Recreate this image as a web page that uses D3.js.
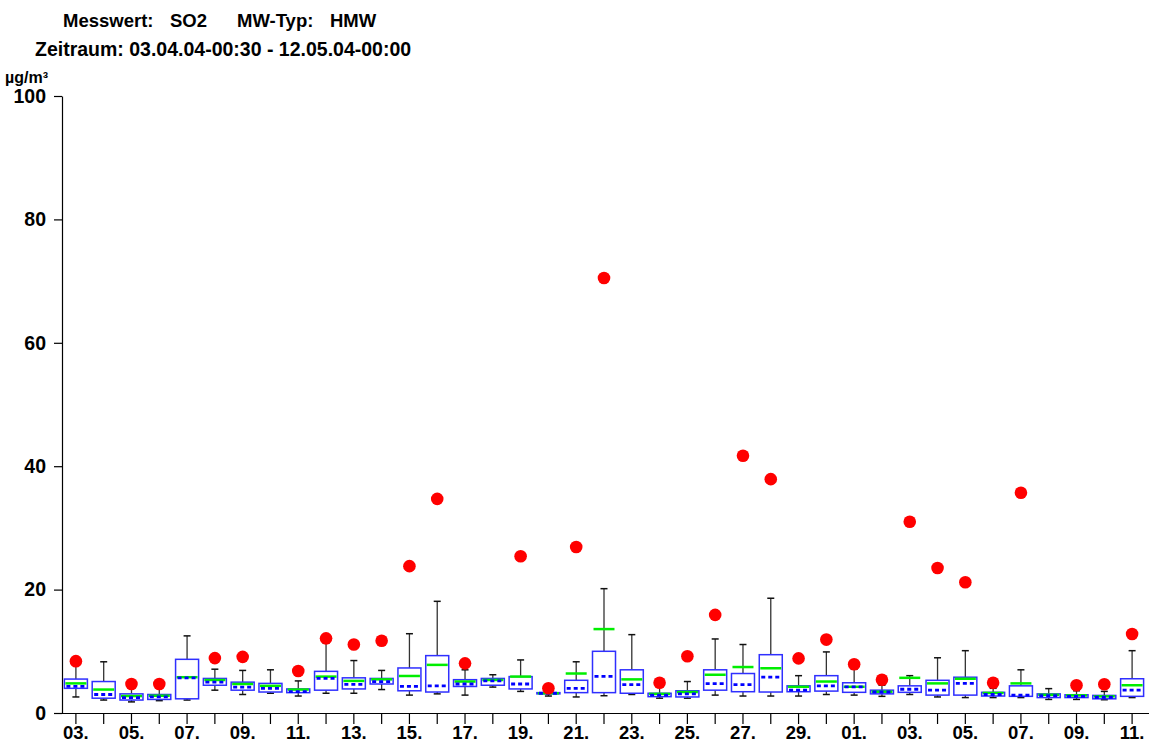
<!DOCTYPE html>
<html>
<head>
<meta charset="utf-8">
<script src="https://cdn.jsdelivr.net/npm/d3@7"></script>
<style>
  body { margin: 0; background: #fff; }
  svg text { font-family: "Liberation Sans", Arial, sans-serif; font-weight: bold; fill: #000; }
</style>
</head>
<body>
<div id="chart"></div>
<script>
// Tageswerte SO2 (HMW), 03.04.04 - 11.05.04
var days = ["03.","04.","05.","06.","07.","08.","09.","10.","11.","12.","13.","14.","15.","16.","17.","18.","19.","20.",
  "21.","22.","23.","24.","25.","26.","27.","28.","29.","30.","01.","02.","03.","04.","05.","06.","07.","08.","09.","10.","11."];

// whisker low / high
var wLow  = [2.6,2.1,1.8,2.0,2.1,3.7,3.0,3.2,2.75,3.2,3.2,3.8,2.9,3.1,2.9,4.2,3.5,2.75,2.6,2.8,3.0,2.4,2.4,2.9,2.75,2.75,2.75,3.0,2.9,2.7,3.0,2.6,2.5,2.5,2.5,2.2,2.2,2.15,2.5];
var wHigh = [7.9,8.3,4.6,4.3,12.5,7.1,6.9,7.0,5.2,11.3,8.5,6.9,12.85,18.1,7.0,6.2,8.6,3.8,8.3,20.15,12.7,4.3,5.1,12.0,11.1,18.6,6.05,9.9,7.1,4.5,6.05,8.95,10.1,4.0,7.0,3.95,3.6,3.5,10.1];
// box
var q1 = [4.0,2.4,2.1,2.2,2.3,4.5,3.7,3.4,3.3,3.7,3.9,4.7,3.6,3.4,4.3,4.5,3.9,3.1,3.3,3.3,3.2,2.65,2.6,3.7,3.45,3.4,3.45,3.55,3.35,3.1,3.35,2.9,2.9,2.75,2.7,2.5,2.5,2.3,2.7];
var q3 = [5.5,5.1,3.1,3.0,8.7,5.6,5.0,4.8,3.9,6.75,5.7,5.6,7.3,9.3,5.4,5.6,5.9,3.3,5.3,10.0,7.0,3.2,3.6,7.0,6.4,9.45,4.4,6.05,4.9,3.7,4.4,5.3,5.8,3.35,4.4,3.1,2.95,2.85,5.55];
var median = [4.3,3.0,2.5,2.6,5.7,5.0,4.2,4.0,3.45,5.6,4.65,5.1,4.3,4.4,4.7,5.2,4.7,3.2,4.0,5.95,4.6,2.9,3.1,4.75,4.6,5.8,3.7,4.4,4.25,3.4,3.85,3.7,4.8,3.0,2.9,2.8,2.7,2.55,3.7];
var mean = [4.8,3.8,2.75,2.8,5.8,5.35,4.7,4.4,3.8,5.9,5.2,5.45,6.0,7.8,5.1,5.35,5.9,3.2,6.4,13.6,5.45,3.1,3.4,6.2,7.45,7.25,4.25,5.1,4.25,3.45,5.7,4.8,5.55,3.25,4.8,2.95,2.85,2.7,4.5];
// Maximum (null = kein Punkt)
var maxVal = [8.4,null,4.7,4.7,null,8.9,9.1,null,6.8,12.1,11.1,11.7,23.8,34.7,8.05,null,25.4,4.0,26.9,70.5,null,4.9,9.2,15.9,41.7,37.9,8.85,11.9,7.9,5.4,31.0,23.5,21.2,4.9,35.7,null,4.5,4.65,12.8];

var yTicks = [0, 20, 40, 60, 80, 100];

var width = 1149, height = 744;
var svg = d3.select("#chart").append("svg")
  .attr("width", width)
  .attr("height", height);

var x = d3.scaleBand().domain(d3.range(days.length)).range([62, 1146]);
var y = d3.scaleLinear().domain([0, 100]).range([713, 96]);

// titles
var title = [["Messwert:", 63], ["SO2", 170], ["MW-Typ:", 237], ["HMW", 330]];
svg.selectAll(".title").data(title).enter().append("text")
  .attr("class", "title")
  .attr("x", function(d) { return d[1]; })
  .attr("y", 27)
  .style("font-size", "18.5px")
  .text(function(d) { return d[0]; });

svg.append("text")
  .attr("x", 35).attr("y", 56)
  .style("font-size", "19.5px")
  .text("Zeitraum: 03.04.04-00:30 - 12.05.04-00:00");

svg.append("text")
  .attr("x", 5).attr("y", 83)
  .style("font-size", "16px")
  .text("µg/m³");

// axes
var yAxis = d3.axisLeft(y).tickValues(yTicks).tickSize(8).tickSizeOuter(0).tickPadding(8);
var gy = svg.append("g").attr("transform", "translate(62,0)").call(yAxis);
gy.selectAll("text").style("font-size", "19.5px");

var xAxis = d3.axisBottom(x).tickSize(11).tickSizeOuter(0).tickPadding(2)
  .tickFormat(function(d, i) { return i % 2 == 0 ? days[i] : ""; });
var gx = svg.append("g").attr("transform", "translate(0,713)").call(xAxis);
gx.selectAll("text").style("font-size", "18.5px");
gx.select(".domain").attr("d", "M62,0.5H1149");

svg.selectAll(".domain, .tick line").style("stroke", "#000").style("stroke-width", 1.2);

// boxes
var bw = 23, cap = 7;
var g = svg.selectAll(".day").data(d3.range(days.length)).enter().append("g")
  .attr("class", "day")
  .attr("transform", function(i) { return "translate(" + (x(i) + x.bandwidth() / 2) + ",0)"; });

g.append("line")
  .attr("x1", 0).attr("x2", 0)
  .attr("y1", function(i) { return y(q3[i]); })
  .attr("y2", function(i) { return y(wHigh[i]); })
  .style("stroke", "#333").style("stroke-width", 1.3);
g.append("line")
  .attr("x1", 0).attr("x2", 0)
  .attr("y1", function(i) { return y(q1[i]); })
  .attr("y2", function(i) { return y(wLow[i]); })
  .style("stroke", "#333").style("stroke-width", 1.3);
g.append("line")
  .attr("x1", -cap / 2).attr("x2", cap / 2)
  .attr("y1", function(i) { return y(wHigh[i]); })
  .attr("y2", function(i) { return y(wHigh[i]); })
  .style("stroke", "#111").style("stroke-width", 1.5);
g.append("line")
  .attr("x1", -cap / 2).attr("x2", cap / 2)
  .attr("y1", function(i) { return y(wLow[i]); })
  .attr("y2", function(i) { return y(wLow[i]); })
  .style("stroke", "#111").style("stroke-width", 1.5);

g.append("rect")
  .attr("x", -bw / 2).attr("width", bw)
  .attr("y", function(i) { return y(q3[i]); })
  .attr("height", function(i) { return y(q1[i]) - y(q3[i]); })
  .style("fill", "#fff").style("stroke", "#2f2fff").style("stroke-width", 1.5);

g.append("line")
  .attr("x1", -bw / 2 + 1).attr("x2", bw / 2 - 1)
  .attr("y1", function(i) { return y(mean[i]); })
  .attr("y2", function(i) { return y(mean[i]); })
  .style("stroke", "#00ee00").style("stroke-width", 2.5);

g.append("line")
  .attr("x1", -bw / 2 + 2).attr("x2", bw / 2 - 1)
  .attr("y1", function(i) { return y(median[i]); })
  .attr("y2", function(i) { return y(median[i]); })
  .style("stroke", "#0000ff").style("stroke-width", 2.8)
  .style("stroke-dasharray", "4,3");

g.filter(function(i) { return maxVal[i] != null; })
  .append("circle")
  .attr("cx", 0)
  .attr("cy", function(i) { return y(maxVal[i]); })
  .attr("r", 6.3)
  .style("fill", "#ff0000");
</script>
</body>
</html>
